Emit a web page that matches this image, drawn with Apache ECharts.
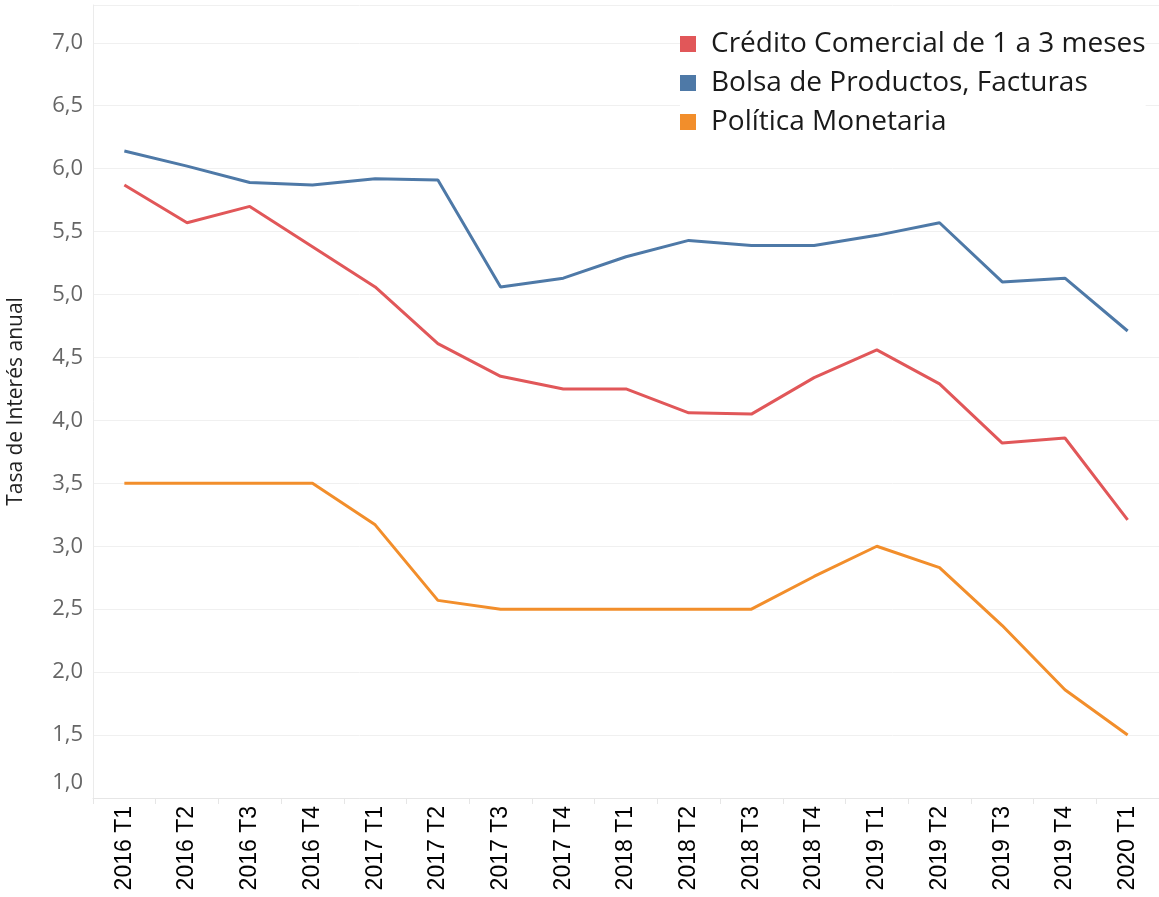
<!DOCTYPE html>
<html>
<head>
<meta charset="utf-8">
<script src="https://cdn.jsdelivr.net/npm/echarts@6/dist/echarts.min.js"></script>
<style>html,body{margin:0;padding:0;background:#fff}#c{width:1159px;height:897px}</style>
</head>
<body>
<div id="c"></div>
<script>
const categories = ['2016 T1','2016 T2','2016 T3','2016 T4','2017 T1','2017 T2','2017 T3','2017 T4','2018 T1','2018 T2','2018 T3','2018 T4','2019 T1','2019 T2','2019 T3','2019 T4','2020 T1'];
const credito = [5.87,5.57,5.70,5.38,5.06,4.61,4.35,4.25,4.25,4.06,4.05,4.34,4.56,4.29,3.82,3.86,3.21];
const bolsa = [6.14,6.02,5.89,5.87,5.92,5.91,5.06,5.13,5.30,5.43,5.39,5.39,5.47,5.57,5.10,5.13,4.71];
const politica = [3.5,3.5,3.5,3.5,3.17,2.57,2.5,2.5,2.5,2.5,2.5,2.76,3.0,2.83,2.37,1.86,1.5];
const seriesNames = ['Crédito Comercial de 1 a 3 meses','Bolsa de Productos, Facturas','Política Monetaria'];
const colors = ['#e15759','#4e79a7','#f28e2b'];
const yAxisName = 'Tasa de Interés anual';

const chart = echarts.init(document.getElementById('c'), null, {renderer:'canvas'});
const font = 'Open Sans';
const mk = (name, data, color) => ({
  name, type:'line', data, symbol:'none', smooth:false,
  lineStyle:{width:3, color}, itemStyle:{color}
});
chart.setOption({
  animation:false,
  textStyle:{fontFamily:font},
  grid:{left:93, right:0, top:5, bottom:99, containLabel:false, outerBoundsMode:'none'},
  legend:{
    orient:'vertical', left:680, top:29, itemWidth:16, itemHeight:16, itemGap:9,
    icon:'rect', backgroundColor:'#fff', padding:[0,0,0,0],
    textStyle:{fontSize:28, lineHeight:30, color:'#1a1a1a', fontFamily:font, padding:[0,0,0,10]},
    data: seriesNames
  },
  xAxis:{
    type:'category', data:categories, boundaryGap:true,
    axisLine:{show:true, lineStyle:{color:'#e6e6e6', width:1}},
    axisTick:{show:true, length:6, lineStyle:{color:'#e6e6e6'}},
    axisLabel:{rotate:90, fontSize:23, color:'#000', margin:8, interval:0, fontFamily:'Liberation Sans'},
    splitLine:{show:false}
  },
  yAxis:{
    type:'value', min:1, max:7.3, interval:0.5,
    name:yAxisName, nameLocation:'middle', nameGap:66, nameRotate:90,
    nameTextStyle:{fontSize:21, color:'#222', fontFamily:font},
    axisLine:{show:true, lineStyle:{color:'#ebebeb'}},
    axisTick:{show:false},
    axisLabel:{
      fontSize:22, color:'#666', margin:10, showMaxLabel:false, fontFamily:font,
      formatter: v => {
        const s = v.toFixed(1).replace('.', ',');
        return v === 1 ? '{lo|' + s + '}' : s;
      },
      rich:{lo:{fontSize:22, color:'#666', padding:[0,0,30,0], fontFamily:font}}
    },
    splitLine:{show:true, lineStyle:{color:'#f0f0f0', width:1}}
  },
  series:[
    mk(seriesNames[0], credito, colors[0]),
    mk(seriesNames[1], bolsa, colors[1]),
    mk(seriesNames[2], politica, colors[2])
  ]
});
</script>
</body>
</html>
